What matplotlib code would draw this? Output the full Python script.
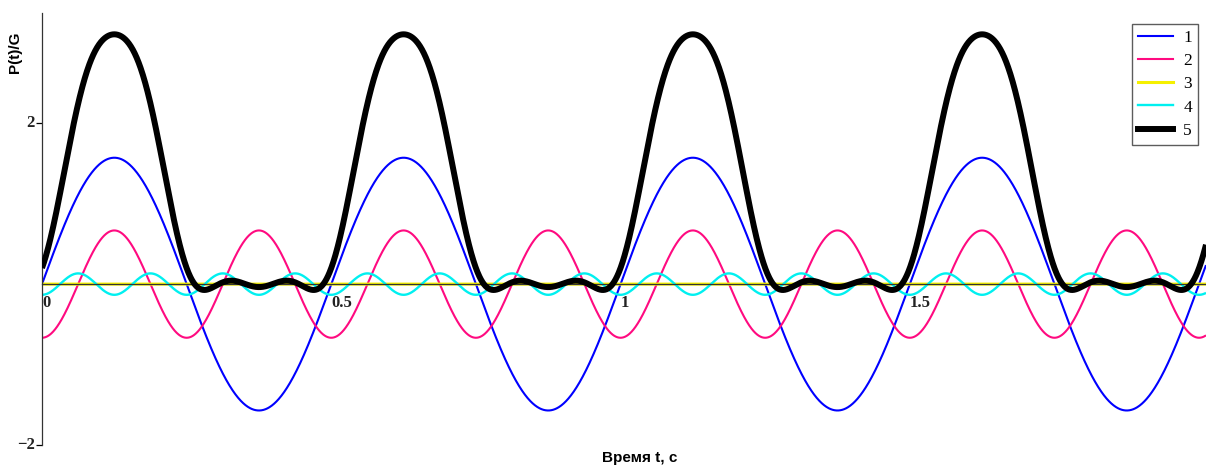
import numpy as np
import matplotlib.pyplot as plt
from matplotlib.lines import Line2D

# Harmonic content of the load P(t)/G (half-wave type pulse)
harmonic_n = [1, 2, 3, 4]
amplitudes = [1.571, 0.667, 0.0, 0.133]
phases = [0.0, -np.pi / 2, -np.pi / 2, -np.pi / 2]
mean_level = 1.0
base_freq = 2.0  # Hz

series_labels = ['1', '2', '3', '4', '5']
series_colors = ['#0000ff', '#ff0a80', '#f5f000', '#00f0f0', '#000000']
series_widths = [1.5, 1.5, 2.2, 1.7, 4.3]

x_ticks = [0, 0.5, 1, 1.5]
x_tick_labels = ['0', '0.5', '1', '1.5']
y_ticks = [-2, 2]
y_tick_labels = ['\u22122', '2']

t = np.linspace(0, 2.012, 3000)
w = 2 * np.pi * base_freq

harmonics = [a * np.sin(n * w * t + ph) for n, a, ph in zip(harmonic_n, amplitudes, phases)]
total = mean_level + np.sum(harmonics, axis=0)
curves = harmonics + [total]

fig = plt.figure(figsize=(12.06, 4.67), dpi=100)
ax = fig.add_axes([42 / 1206, 22 / 467, 1 - 42 / 1206, (445 - 13) / 467])

for i, y in enumerate(curves):
    ax.plot(t, y, color=series_colors[i], lw=series_widths[i],
            zorder=5 if i == 4 else 3, solid_capstyle='butt')

ax.set_xlim(0, 2.012)
ax.set_ylim(-2, 3.37)

# Mathcad-like crossed axes
ax.spines['top'].set_visible(False)
ax.spines['right'].set_visible(False)
ax.spines['bottom'].set_position(('data', 0))
ax.spines['left'].set_position(('data', 0))
for s in ('bottom', 'left'):
    ax.spines[s].set_linewidth(0.9)
    ax.spines[s].set_color('#333333')
    ax.spines[s].set_zorder(4)

serif = ['Liberation Serif', 'DejaVu Serif']
ax.set_xticks(x_ticks)
ax.set_xticklabels(x_tick_labels, family=serif, fontsize=12, fontweight='bold',
                   ha='left', color='#222222')
ax.tick_params(axis='x', length=0, pad=8)
ax.set_yticks(y_ticks)
ax.set_yticklabels(y_tick_labels, family=serif, fontsize=12, fontweight='bold',
                   color='#222222')
ax.tick_params(axis='y', length=4, width=0.9, pad=1, direction='out')
for lbl in ax.get_yticklabels():
    lbl.set_verticalalignment('center')

fig.text(15 / 1206, 1 - 52 / 467, 'P(t)/G', rotation=90, ha='center', va='center',
         family=['Liberation Sans', 'DejaVu Sans'], fontsize=11, fontweight='bold')
fig.text(640 / 1206, 1 - 458 / 467, 'Время t, с', ha='center', va='center',
         family=['Liberation Sans', 'DejaVu Sans'], fontsize=11, fontweight='bold')

handles = [Line2D([], [], color=c, lw=lw) for c, lw in zip(series_colors, series_widths)]
leg = ax.legend(handles, series_labels, loc='upper right',
                bbox_to_anchor=(1198 / 1206, 1 - 24 / 467), bbox_transform=fig.transFigure,
                prop={'family': serif, 'size': 12.5}, frameon=True, fancybox=False,
                handlelength=2.0, handletextpad=0.6, labelspacing=0.4,
                borderpad=0.35, borderaxespad=0)
leg.get_frame().set_edgecolor('#333333')
leg.get_frame().set_linewidth(1.0)

fig.savefig('out.png', dpi=100)
